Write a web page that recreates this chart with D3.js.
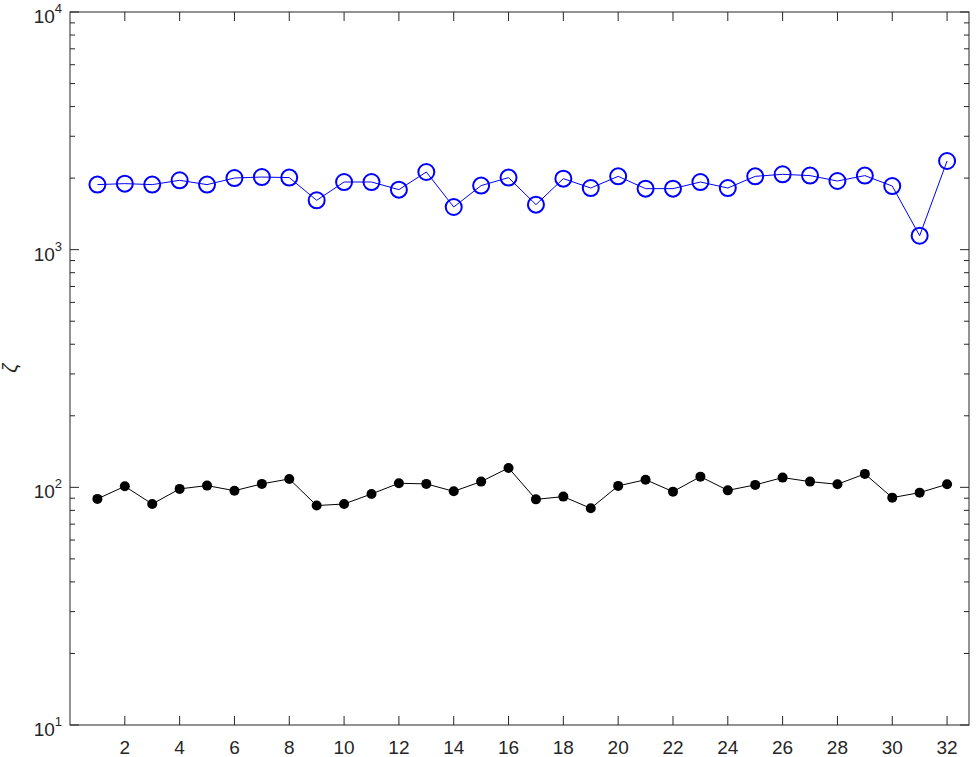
<!DOCTYPE html>
<html>
<head>
<meta charset="utf-8">
<script src="https://cdn.jsdelivr.net/npm/d3@7"></script>
<style>
  body { margin: 0; background: #fff; }
  svg { display: block; font-family: "Liberation Sans", Arial, sans-serif; }
</style>
</head>
<body>
<div id="chart"></div>
<script>
// data
var idx = d3.range(1, 33);
var blueVals = [1878, 1896, 1878, 1958, 1878, 2002, 2021, 2010, 1613, 1926,
                1926, 1789, 2122, 1512, 1860, 2010, 1547, 1990, 1817, 2035,
                1806, 1806, 1926, 1817, 2035, 2075, 2049, 1945, 2049, 1852,
                1145, 2361];
var blackVals = [89.4, 101, 85.1, 98.5, 101.7, 96.8, 103.4, 108.5, 83.8, 85.1,
                 93.8, 104, 103.4, 96.2, 105.7, 120.7, 89, 91.4, 81.6, 101.4,
                 107.7, 95.9, 110.9, 97.1, 102.4, 109.9, 105.7, 103, 113.9, 90.5,
                 95, 103];
var xTicks = d3.range(2, 33, 2);
var yDecades = [1, 2, 3, 4];

var W = 978, H = 757;
var m = {left: 70, right: 9, top: 12, bottom: 32};

var svg = d3.select("#chart").append("svg")
  .attr("width", W).attr("height", H);

var x = d3.scaleLinear().domain([0, 32.8]).range([m.left, W - m.right]);
var y = d3.scaleLog().domain([10, 10000]).range([H - m.bottom, m.top]);

var axisCol = "#262626";
var x0 = x.range()[0], x1 = x.range()[1];
var y0 = y.range()[0], y1 = y.range()[1];

// box
svg.append("rect")
  .attr("x", x0).attr("y", y1)
  .attr("width", x1 - x0).attr("height", y0 - y1)
  .attr("fill", "none").attr("stroke", axisCol).attr("stroke-width", 1);

// x ticks (bottom + top, inward)
xTicks.forEach(function(t) {
  svg.append("line").attr("x1", x(t)).attr("x2", x(t))
    .attr("y1", y0).attr("y2", y0 - 9).attr("stroke", axisCol);
  svg.append("line").attr("x1", x(t)).attr("x2", x(t))
    .attr("y1", y1).attr("y2", y1 + 9).attr("stroke", axisCol);
  svg.append("text").attr("x", x(t)).attr("y", y0 + 29)
    .attr("text-anchor", "middle").attr("font-size", 19)
    .attr("fill", axisCol).text(t);
});

// y ticks: majors + minors on both sides
var minor = [];
for (var d = 1; d < 4; d++) {
  for (var k = 2; k <= 9; k++) minor.push(k * Math.pow(10, d));
}
minor.forEach(function(v) {
  svg.append("line").attr("x1", x0).attr("x2", x0 + 5)
    .attr("y1", y(v)).attr("y2", y(v)).attr("stroke", axisCol);
  svg.append("line").attr("x1", x1).attr("x2", x1 - 5)
    .attr("y1", y(v)).attr("y2", y(v)).attr("stroke", axisCol);
});
yDecades.forEach(function(e) {
  var v = Math.pow(10, e);
  svg.append("line").attr("x1", x0).attr("x2", x0 + 9)
    .attr("y1", y(v)).attr("y2", y(v)).attr("stroke", axisCol);
  svg.append("line").attr("x1", x1).attr("x2", x1 - 9)
    .attr("y1", y(v)).attr("y2", y(v)).attr("stroke", axisCol);
  var lab = svg.append("text").attr("x", x0 - 8).attr("y", y(v) + 11)
    .attr("text-anchor", "end").attr("fill", axisCol).attr("font-size", 19);
  lab.append("tspan").text("10");
  lab.append("tspan").attr("dy", -10).attr("font-size", 13).text(e);
});

// y label
svg.append("text")
  .attr("transform", "translate(17," + 368 + ") rotate(-90)")
  .attr("text-anchor", "middle").attr("font-size", 20)
  .attr("font-style", "italic").attr("fill", axisCol)
  .text("\u03b6");

var line = d3.line().x(function(d, i) { return x(idx[i]); })
  .y(function(d) { return y(d); });

// black series
svg.append("path").datum(blackVals).attr("d", line)
  .attr("fill", "none").attr("stroke", "#000").attr("stroke-width", 1);
svg.selectAll(".dot").data(blackVals).enter().append("circle")
  .attr("class", "dot")
  .attr("cx", function(d, i) { return x(idx[i]); })
  .attr("cy", function(d) { return y(d); })
  .attr("r", 5).attr("fill", "#000");

// blue series
svg.append("path").datum(blueVals).attr("d", line)
  .attr("fill", "none").attr("stroke", "#0000ff").attr("stroke-width", 1);
svg.selectAll(".ring").data(blueVals).enter().append("circle")
  .attr("class", "ring")
  .attr("cx", function(d, i) { return x(idx[i]); })
  .attr("cy", function(d) { return y(d); })
  .attr("r", 8).attr("fill", "none")
  .attr("stroke", "#0000ff").attr("stroke-width", 2);
</script>
</body>
</html>
